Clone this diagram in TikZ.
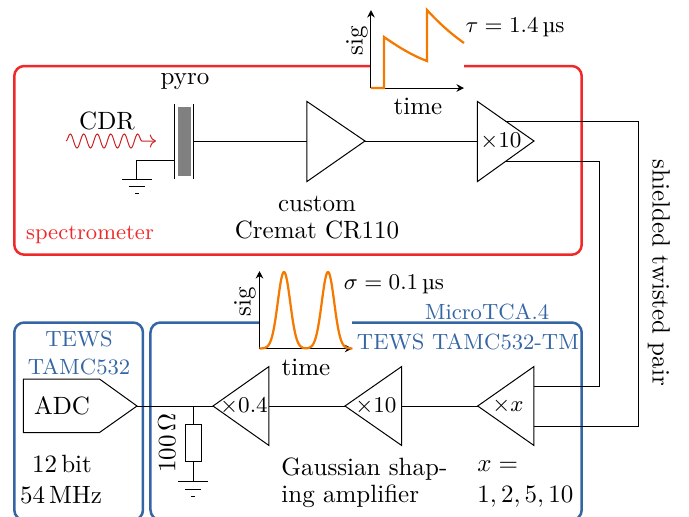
\documentclass[tikz,border=0pt]{standalone}
\usepackage{fontspec}
\usetikzlibrary{decorations.pathmorphing,arrows.meta}
\definecolor{boxred}{HTML}{EF2929}
\definecolor{boxblue}{HTML}{3465A4}
\definecolor{sigorange}{HTML}{F57900}
\tikzset{
  wire/.style={draw=black,line width=0.4pt},
  redbox/.style={draw=boxred,line width=1pt,rounded corners=4pt},
  bluebox/.style={draw=boxblue,line width=1pt,rounded corners=4pt},
  axis/.style={draw=black,line width=0.4pt,-{Stealth[length=3pt,width=3pt]}},
  signal/.style={draw=sigorange,line width=0.9pt},
  label/.style={inner sep=0pt,text=black},
  redlabel/.style={inner sep=0pt,text=boxred,font=\fontsize{8.8}{11}\selectfont},
  bluelabel/.style={inner sep=0pt,text=boxblue,font=\fontsize{8.8}{11}\selectfont},
  gain/.style={inner sep=0pt,text=black,font=\fontsize{9.2}{11}\selectfont},
  mathlabel/.style={inner sep=0pt,text=black,font=\fontsize{9}{11}\selectfont},
}
\begin{document}
\begin{tikzpicture}[x=0.4pt,y=-0.4pt]
\useasboundingbox (0,0) rectangle (689,516);
% enclosures
\draw[redbox] (14.3,66) rectangle (581.7,254.7);
\draw[bluebox] (14.3,322.5) rectangle (143,520);
\draw[bluebox] (150.5,322.5) rectangle (581.7,520);
% white gaps behind the plots
\fill[white] (371,60) rectangle (464,72);
\fill[white] (259.5,316) rectangle (352.3,329);
% coordinates
\coordinate (plateLtop) at (175,104); \coordinate (plateLbot) at (175,179);
\coordinate (plateRtop) at (193.7,104); \coordinate (plateRbot) at (193.7,179);
\coordinate (plateOut) at (193.7,141);
\coordinate (plateGnd) at (175,160);
\coordinate (gndA) at (137,179);
\coordinate (crIn) at (307,141); \coordinate (crTop) at (307,101.5);
\coordinate (crBot) at (307,181.5); \coordinate (crOut) at (365,141);
\coordinate (tenIn) at (477.5,141); \coordinate (tenTop) at (477.5,101.5);
\coordinate (tenBot) at (477.5,181.5); \coordinate (tenTip) at (534,141);
\coordinate (tenOutA) at (505,121.5); \coordinate (tenOutB) at (505,161);
\coordinate (xTip) at (477.7,406); \coordinate (xTop) at (534,366.5);
\coordinate (xBot) at (534,445.5); \coordinate (xInA) at (534,386);
\coordinate (xInB) at (534,426);
\coordinate (midTip) at (345,406); \coordinate (midTop) at (401.7,366.5);
\coordinate (midBot) at (401.7,445.5); \coordinate (midBase) at (401.7,406);
\coordinate (lowTip) at (213,406); \coordinate (lowTop) at (269,366.5);
\coordinate (lowBot) at (269,445.5); \coordinate (lowBase) at (269,406);
\coordinate (adcTip) at (137,406);
\coordinate (resTap) at (193.5,406); \coordinate (gndB) at (193.5,481.5);
% pyro
\fill[gray] (178,107) rectangle (190.7,175.7);
\draw[wire] (plateLtop) -- (plateLbot);
\draw[wire] (plateRtop) -- (plateRbot);
\draw[wire] (plateOut) -- (crIn);
\draw[wire] (plateGnd) -| (gndA);
\draw[wire] ([xshift=-6pt]gndA) -- ([xshift=6pt]gndA);
\draw[wire] ([xshift=-3.2pt,yshift=-3pt]gndA) -- ([xshift=3.2pt,yshift=-3pt]gndA);
\draw[wire] ([xshift=-0.8pt,yshift=-5.8pt]gndA) -- ([xshift=0.8pt,yshift=-5.8pt]gndA);
% CDR
\coordinate (cdrA) at (66,141); \coordinate (cdrB) at (156,141);
\draw[draw=boxred!85!black,line width=0.4pt,->,decorate,decoration={snake,amplitude=2.8pt,segment length=5.4pt,post length=4pt}] (cdrA) -- (cdrB);
% amplifiers
\draw[wire] (crTop) -- (crOut) -- (crBot) -- cycle;
\draw[wire] (crOut) -- (tenIn);
\draw[wire] (tenTop) -- (tenTip) -- (tenBot) -- cycle;
\draw[wire] (tenOutA) -- (639,121.5) |- (xInB);
\draw[wire] (tenOutB) -- (600,161) |- (xInA);
\draw[wire] (xTip) -- (xTop) -- (xBot) -- cycle;
\draw[wire] (midTip) -- (midTop) -- (midBot) -- cycle;
\draw[wire] (lowTip) -- (lowTop) -- (lowBot) -- cycle;
\draw[wire] (midBase) -- (xTip);
\draw[wire] (lowBase) -- (midTip);
\draw[wire] (adcTip) -- (lowTip);
\node[wire,draw,minimum width=6.2pt,minimum height=14.9pt,inner sep=0pt] (res) at (193.5,443.3) {};
\draw[wire] (resTap) -- (res.north);
\draw[wire] (res.south) -- (gndB);
\draw[wire] ([xshift=-6pt]gndB) -- ([xshift=6pt]gndB);
\draw[wire] ([xshift=-3.2pt,yshift=-3pt]gndB) -- ([xshift=3.2pt,yshift=-3pt]gndB);
\draw[wire] ([xshift=-0.8pt,yshift=-5.8pt]gndB) -- ([xshift=0.8pt,yshift=-5.8pt]gndB);
\draw[wire] (23.5,379) -- (99.5,379) -- (adcTip) -- (99.5,432.5) -- (23.5,432.5) -- cycle;
% upper plot
\coordinate (pOneO) at (371,88);
\draw[axis] (pOneO) -- (371,10);
\draw[axis] (pOneO) -- (464,88);
\draw[signal] (pOneO) -- (384,88) -- (384,37) .. controls (397,46) and (411,55) .. (427,61) -- (427,10) .. controls (439,23) and (450,33) .. (464,43);
% lower plot
\coordinate (pTwoO) at (259.5,348.5);
\draw[axis] (pTwoO) -- (259.5,271);
\draw[axis] (pTwoO) -- (352.3,348.5);
\draw[signal] plot[domain=259.5:352.3,samples=140,smooth] (\x,{348.5-76.5*(exp(-((\x-284)/6.2)^2/2)+exp(-((\x-328)/6.2)^2/2))});
% labels
\node[label] (lcdr) at (107,121) {CDR};
\node[label] (lpyro) at (185,81) {pyro};
\node[label,align=center] (lcustom) at (317,217.5) {custom\\[-1.2pt]Cremat CR110};
\node[redlabel] (lspec) at (90,235) {spectrometer};
\node[label,rotate=90] (lsigA) at (357,41) {sig};
\node[label] (ltimeA) at (418,106) {time};
\node[mathlabel] (ltau) at (515,27) {$\tau=1.4\,$µs};
\node[gain] (lten) at (501,141) {$\times10$};
\node[label,rotate=-90] (lshield) at (659,273) {shielded twisted pair};
\node[label,rotate=90] (lsigB) at (245,302) {sig};
\node[label] (ltimeB) at (306,367) {time};
\node[mathlabel] (lsigma) at (394,284) {$\sigma=0.1\,$µs};
\node[bluelabel] (lmicro) at (487,312) {MicroTCA.4};
\node[bluelabel] (ltm) at (468,342) {TEWS TAMC532-TM};
\node[bluelabel,align=center] (ltews) at (79,353) {TEWS\\[0.2pt]TAMC532};
\node[label] (ladc) at (62,406) {ADC};
\node[label] (lbit) at (62,464) {12\,bit};
\node[label] (lmhz) at (61,495) {54\,MHz};
\node[gain] (llow) at (244,406) {$\times0.4$};
\node[gain] (lmid) at (376,406) {$\times10$};
\node[gain] (lx) at (508,406) {$\times x$};
\node[label,rotate=90] (lres) at (167,443) {100\,$\Omega$};
\node[label,align=left,anchor=west] (lgauss) at (281,482.5) {Gaussian shap-\\[-1.2pt]ing amplifier};
\node[label,align=left,anchor=west] (lxval) at (477,484) {$x=$\\[0.4pt]$1,2,5,10$};
\end{tikzpicture}
\end{document}
